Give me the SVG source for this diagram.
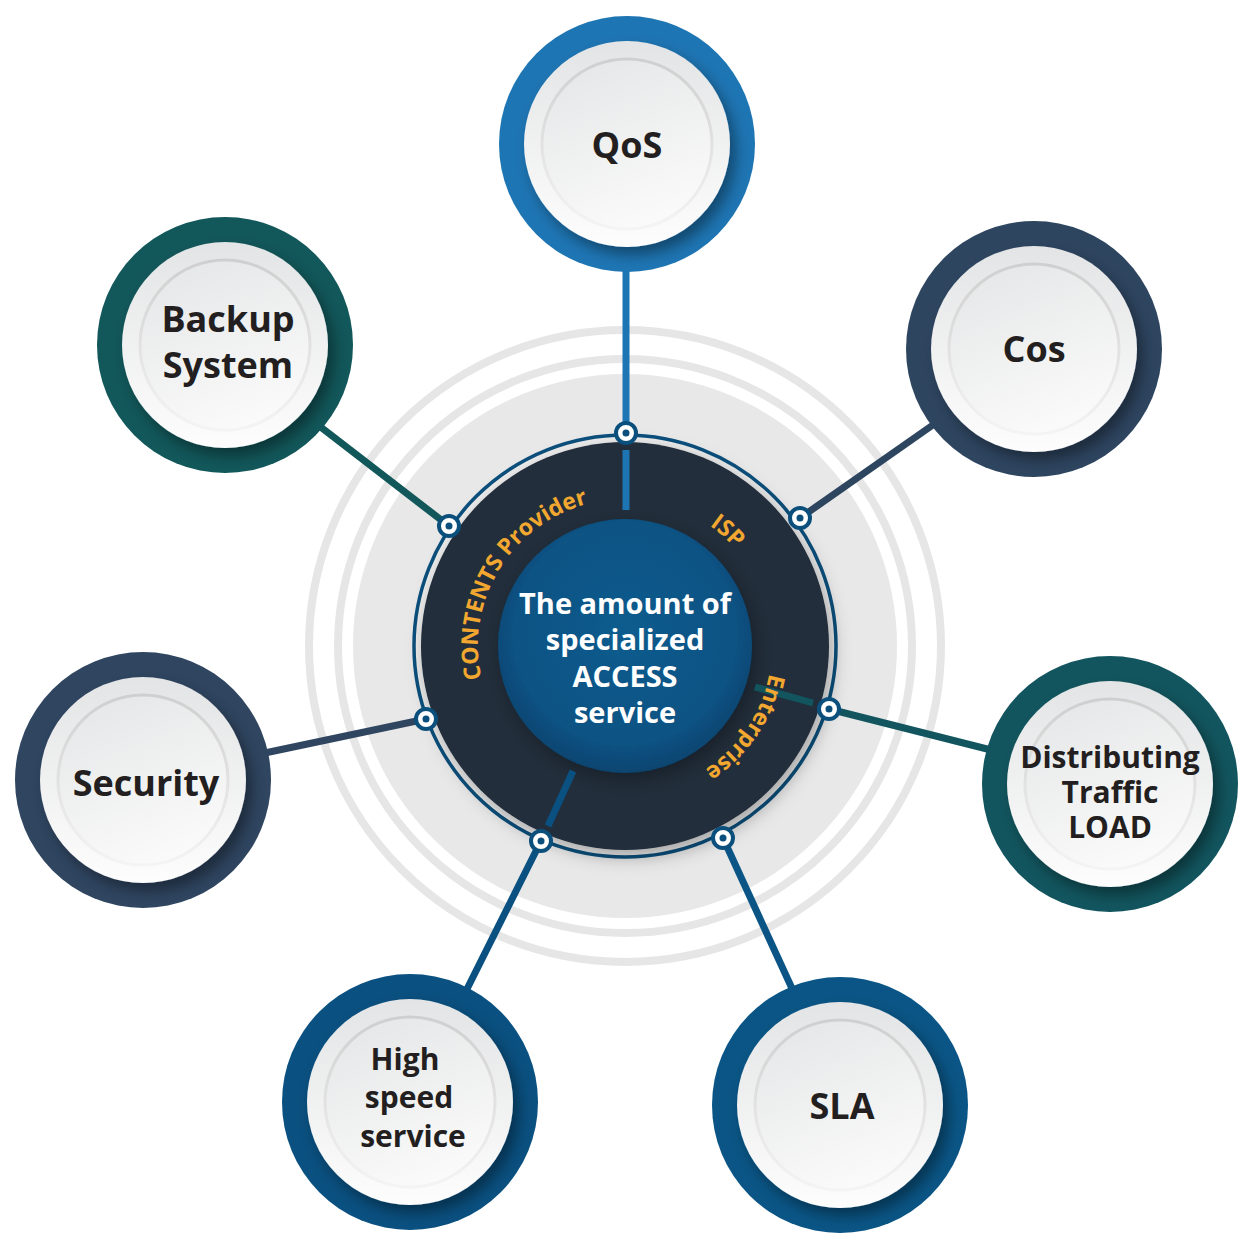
<svg xmlns="http://www.w3.org/2000/svg" xmlns:xlink="http://www.w3.org/1999/xlink" width="1250" height="1250" viewBox="0 0 1250 1250">
<defs>
  <style>
    .lbl{font-family:"Open Sans","Noto Sans","Liberation Sans",sans-serif;font-weight:700;fill:#231f20;text-anchor:middle}
    .ctr{font-family:"Open Sans","Noto Sans","Liberation Sans",sans-serif;font-weight:700;fill:#ffffff;text-anchor:middle;font-size:29px}
    .arc{font-family:"Open Sans","Noto Sans","Liberation Sans",sans-serif;font-weight:700;fill:#f2a830;font-size:23px}
    .bgring{fill:none;stroke:#e6e6e6;stroke-width:8}
    .link{stroke-width:7;stroke-linecap:butt;fill:none}
    .dot{fill:#ffffff;stroke:#0b4f7c;stroke-width:4}
    .dotc{fill:#0b4f7c}
    .white{fill:url(#gWhite);filter:url(#shNode)}
    .inner{fill:url(#gInner);stroke:url(#gInnerStroke);stroke-width:3}
  </style>
  <linearGradient id="gWhite" x1="0" y1="0" x2="0" y2="1">
    <stop offset="0" stop-color="#e3e4e5"/>
    <stop offset="1" stop-color="#fdfdfd"/>
  </linearGradient>
  <linearGradient id="gInner" x1="0.3" y1="0" x2="0.7" y2="1">
    <stop offset="0" stop-color="#e6e7e8"/>
    <stop offset="1" stop-color="#fbfbfb"/>
  </linearGradient>
  <linearGradient id="gInnerStroke" x1="0" y1="0" x2="0" y2="1">
    <stop offset="0" stop-color="#cfcfd0"/>
    <stop offset="1" stop-color="#f4f4f4"/>
  </linearGradient>
  <radialGradient id="gHub" cx="0.5" cy="0.45" r="0.55">
    <stop offset="0" stop-color="#0b5c8e"/>
    <stop offset="0.8" stop-color="#0a5283"/>
    <stop offset="1" stop-color="#084470"/>
  </radialGradient>
  <filter id="shNode" x="-30%" y="-30%" width="160%" height="160%">
    <feDropShadow dx="6" dy="8" stdDeviation="7" flood-color="#000" flood-opacity="0.38"/>
  </filter>
  <filter id="shHub" x="-30%" y="-30%" width="160%" height="160%">
    <feDropShadow dx="4" dy="7" stdDeviation="9" flood-color="#000" flood-opacity="0.3"/>
  </filter>
  <path id="ringPath" d="M625,793 A147,147 0 1 1 625,499 A147,147 0 1 1 625,793"/>
</defs>

<rect width="1250" height="1250" fill="#ffffff"/>

<g id="background">
  <circle class="bgring" cx="625" cy="646" r="316"/>
  <circle class="bgring" cx="625" cy="646" r="287"/>
  <circle cx="625" cy="646" r="272" fill="#e8e8e8"/>
</g>

<g id="hub">
  <circle cx="625" cy="646" r="211" fill="#ececec" stroke="#0b4f7c" stroke-width="3.5"/>
  <circle cx="625" cy="646" r="204" fill="#222d3b" filter="url(#shHub)"/>
  <circle cx="625" cy="646" r="127" fill="url(#gHub)" filter="url(#shHub)"/>
  <text class="ctr"><tspan x="625" y="614">The amount of</tspan><tspan x="625" y="650">specialized</tspan><tspan x="625" y="687">ACCESS</tspan><tspan x="625" y="723">service</tspan></text>
</g>

<g id="connectors">
  <line class="link" x1="626" y1="260" x2="626" y2="432" stroke="#1e75b3"/>
  <line class="link" x1="626" y1="450" x2="626" y2="510" stroke="#1e75b3"/>
  <line class="link" x1="940" y1="420" x2="800" y2="518" stroke="#2e4560"/>
  <line class="link" x1="995" y1="751" x2="829" y2="709" stroke="#12555e"/>
  <line class="link" x1="755" y1="687" x2="813" y2="703" stroke="#12555e"/>
  <line class="link" x1="795" y1="995" x2="723" y2="838" stroke="#0a5585"/>
  <line class="link" x1="464" y1="995" x2="541" y2="841" stroke="#0a5080"/>
  <line class="link" x1="573" y1="771" x2="548" y2="826" stroke="#0a5080"/>
  <line class="link" x1="260" y1="754" x2="426" y2="719" stroke="#2f4560"/>
  <line class="link" x1="318" y1="425" x2="449" y2="526" stroke="#12575a"/>
  <circle class="dot" cx="626" cy="433" r="10"/><circle class="dotc" cx="626" cy="433" r="3.5"/>
  <circle class="dot" cx="800" cy="518" r="10"/><circle class="dotc" cx="800" cy="518" r="3.5"/>
  <circle class="dot" cx="829" cy="709" r="10"/><circle class="dotc" cx="829" cy="709" r="3.5"/>
  <circle class="dot" cx="723" cy="838" r="10"/><circle class="dotc" cx="723" cy="838" r="3.5"/>
  <circle class="dot" cx="541" cy="841" r="10"/><circle class="dotc" cx="541" cy="841" r="3.5"/>
  <circle class="dot" cx="426" cy="719" r="10"/><circle class="dotc" cx="426" cy="719" r="3.5"/>
  <circle class="dot" cx="449" cy="526" r="10"/><circle class="dotc" cx="449" cy="526" r="3.5"/>
</g>

<g id="ring-labels">
  <text class="arc"><textPath xlink:href="#ringPath" href="#ringPath" startOffset="198">CONTENTS Provider</textPath></text>
  <text class="arc" text-anchor="middle"><textPath xlink:href="#ringPath" href="#ringPath" startOffset="569">ISP</textPath></text>
  <text class="arc" text-anchor="middle"><textPath xlink:href="#ringPath" href="#ringPath" startOffset="780">Enterprise</textPath></text>
</g>

<g id="node-qos">
  <circle cx="627" cy="144" r="128" fill="#1e75b3"/>
  <circle class="white" cx="627" cy="144" r="103"/>
  <circle class="inner" cx="627" cy="144" r="85"/>
  <text class="lbl" x="627" y="158" font-size="36">QoS</text>
</g>

<g id="node-cos">
  <circle cx="1034" cy="349" r="128" fill="#2e4560"/>
  <circle class="white" cx="1034" cy="349" r="103"/>
  <circle class="inner" cx="1034" cy="349" r="85"/>
  <text class="lbl" x="1034" y="362" font-size="36">Cos</text>
</g>

<g id="node-distributing">
  <circle cx="1110" cy="784" r="128" fill="#12555e"/>
  <circle class="white" cx="1110" cy="784" r="103"/>
  <circle class="inner" cx="1110" cy="784" r="85"/>
  <text class="lbl" font-size="30"><tspan x="1110" y="768">Distributing</tspan><tspan x="1110" y="803">Traffic</tspan><tspan x="1110" y="838">LOAD</tspan></text>
</g>

<g id="node-sla">
  <circle cx="840" cy="1105" r="128" fill="#0a5585"/>
  <circle class="white" cx="840" cy="1105" r="103"/>
  <circle class="inner" cx="840" cy="1105" r="85"/>
  <text class="lbl" x="842" y="1119" font-size="36">SLA</text>
</g>

<g id="node-highspeed">
  <circle cx="410" cy="1102" r="128" fill="#0a5080"/>
  <circle class="white" cx="410" cy="1102" r="103"/>
  <circle class="inner" cx="410" cy="1102" r="85"/>
  <text class="lbl" font-size="30"><tspan x="405" y="1070">High</tspan><tspan x="409" y="1108">speed</tspan><tspan x="413" y="1147">service</tspan></text>
</g>

<g id="node-security">
  <circle cx="143" cy="780" r="128" fill="#2f4560"/>
  <circle class="white" cx="143" cy="780" r="103"/>
  <circle class="inner" cx="143" cy="780" r="85"/>
  <text class="lbl" x="146" y="796" font-size="36">Security</text>
</g>

<g id="node-backup">
  <circle cx="225" cy="345" r="128" fill="#12575a"/>
  <circle class="white" cx="225" cy="345" r="103"/>
  <circle class="inner" cx="225" cy="345" r="85"/>
  <text class="lbl" font-size="36"><tspan x="228" y="332">Backup</tspan><tspan x="228" y="378">System</tspan></text>
</g>
</svg>
